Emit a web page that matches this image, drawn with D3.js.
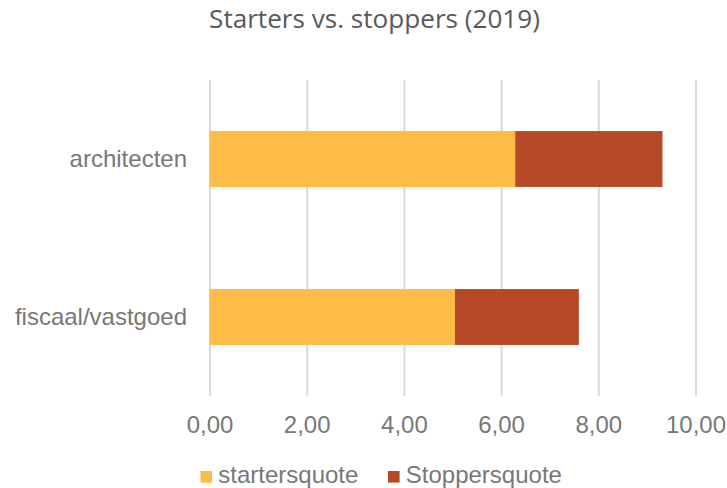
<!DOCTYPE html>
<html>
<head>
<meta charset="utf-8">
<script src="https://cdn.jsdelivr.net/npm/d3@7"></script>
<style>
  html, body { margin: 0; padding: 0; background: #fff; }
  svg { display: block; }
  .tick text { font-family: "Liberation Sans", Arial, sans-serif; }
</style>
</head>
<body>
<svg id="chart" width="727" height="488"></svg>
<script>
  const title = 'Starters vs. stoppers (2019)';
  const categories = ['architecten', 'fiscaal/vastgoed'];
  const seriesNames = ['startersquote', 'Stoppersquote'];
  const startersquote = [6.29, 5.05];
  const stoppersquote = [3.03, 2.55];
  const xTicks = [0, 2, 4, 6, 8, 10];

  const COLORS = ['#fdbb48', '#b64a27'];
  const TEXT = '#787878';
  const FS = 24;

  const svg = d3.select('#chart');
  const plotTop = 80, plotBottom = 396, plotLeft = 209.5, plotRight = 695.5;

  const rows = categories.map(function (c, i) {
    return { cat: c, startersquote: startersquote[i], Stoppersquote: stoppersquote[i] };
  });
  const stacked = d3.stack().keys(seriesNames)(rows);

  const x = d3.scaleLinear().domain([0, 10]).range([plotLeft, plotRight]);
  const y = d3.scaleBand().domain(categories).range([plotTop, plotBottom])
    .paddingInner(0.646).paddingOuter(0.323);

  const nl = d3.formatLocale({ decimal: ',', thousands: '.', grouping: [3], currency: ['€', ''] });

  // raster + x labels
  const gx = svg.append('g').attr('transform', 'translate(0,' + plotBottom + ')')
    .call(d3.axisBottom(x).tickValues(xTicks).tickSize(-(plotBottom - plotTop)).tickPadding(20.3)
      .tickFormat(nl.format('.2f')));
  gx.select('.domain').remove();
  gx.selectAll('.tick line').attr('stroke', '#d9d9d9').attr('stroke-width', 2);
  gx.selectAll('.tick text').attr('fill', TEXT).attr('font-size', FS);

  // bars
  svg.append('g').selectAll('g.series').data(stacked).join('g')
    .attr('class', 'series').attr('fill', function (d, i) { return COLORS[i]; })
    .selectAll('rect').data(function (d) { return d; }).join('rect')
    .attr('x', function (d) { return x(d[0]); })
    .attr('width', function (d) { return x(d[1]) - x(d[0]); })
    .attr('y', function (d) { return y(d.data.cat); })
    .attr('height', y.bandwidth());

  // category labels
  const gy = svg.append('g').attr('transform', 'translate(' + plotLeft + ',0)')
    .call(d3.axisLeft(y).tickSize(0).tickPadding(22.5));
  gy.select('.domain').remove();
  gy.selectAll('.tick text').attr('fill', TEXT).attr('font-size', FS);

  // title
  const t = svg.append('text').attr('x', 374.5).attr('y', 28)
    .attr('text-anchor', 'middle').attr('fill', '#595959')
    .style('font-family', '"Open Sans", sans-serif').attr('font-size', 22).text(title);
  const tw = t.node().getComputedTextLength();
  t.attr('font-size', 22 * 331 / tw);

  // legend
  const legX = [200.5, 388];
  const leg = svg.append('g').selectAll('g').data(seriesNames).join('g')
    .attr('transform', function (d, i) { return 'translate(' + legX[i] + ',471)'; });
  leg.append('rect').attr('width', 11.6).attr('height', 11.6)
    .attr('fill', function (d, i) { return COLORS[i]; });
  leg.append('text').attr('x', 17.8).attr('y', 12)
    .attr('fill', TEXT).attr('font-size', FS)
    .style('font-family', '"Liberation Sans", Arial, sans-serif')
    .text(function (d) { return d; });
</script>
</body>
</html>
